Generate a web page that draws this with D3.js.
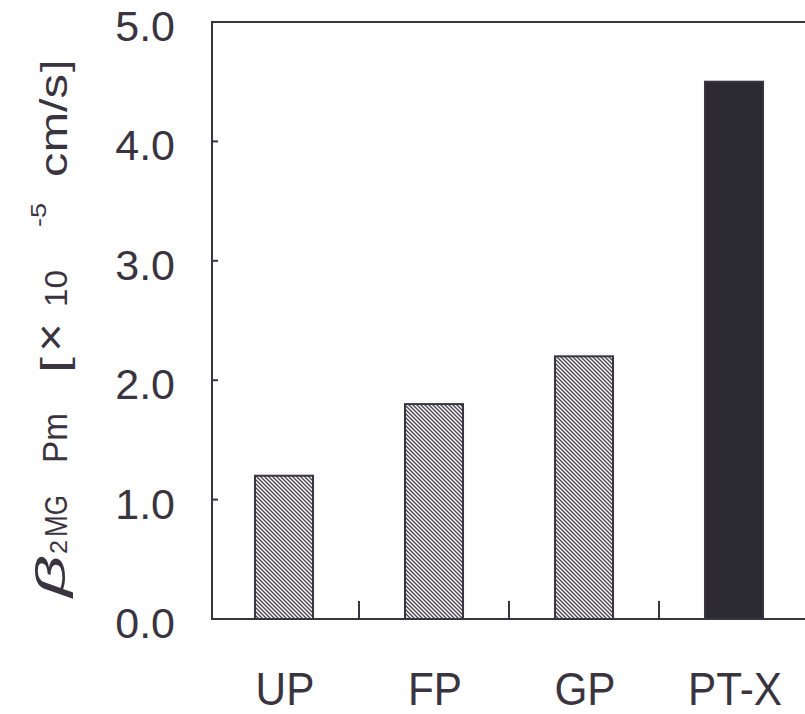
<!DOCTYPE html>
<html>
<head>
<meta charset="utf-8">
<script src="https://cdn.jsdelivr.net/npm/d3@7"></script>
<style>
  body { margin: 0; background: #fff; }
  svg { display: block; }
</style>
</head>
<body>
<div id="chart"></div>
<script>
// data
const categories = ["UP", "FP", "GP", "PT-X"];
const values = [1.2, 1.8, 2.2, 4.5];
const solid = [false, false, false, true];
const yTicks = [0, 1, 2, 3, 4, 5];

const width = 805, height = 714;
const ink = "#3a3440";

const svg = d3.select("#chart").append("svg")
  .attr("width", width)
  .attr("height", height);

// hatch for the first three bars
const defs = svg.append("defs");
const pat = defs.append("pattern")
  .attr("id", "hatch")
  .attr("patternUnits", "userSpaceOnUse")
  .attr("width", 4)
  .attr("height", 4);
pat.append("rect").attr("width", 4).attr("height", 4).attr("fill", "#fff");
pat.append("path")
  .attr("d", "M0,0L4,4M-1,3L1,5M3,-1L5,1")
  .attr("stroke", "#4a4650")
  .attr("stroke-width", 1.4);

const x = d3.scaleBand()
  .domain(categories)
  .range([209, 809])
  .paddingInner(0.613)
  .paddingOuter(0.3065);

// plain bands for the separator ticks
const xSep = d3.scaleBand()
  .domain(categories)
  .range([209, 809]);

const y = d3.scaleLinear()
  .domain([0, 5])
  .range([619, 22]);

const x0 = 212;

// frame: left axis, top line, bottom axis
svg.append("path")
  .attr("d", "M" + (width + 10) + "," + y(5) + "H" + x0 + "V" + y(0) + "H" + (width + 10))
  .attr("fill", "none")
  .attr("stroke", ink)
  .attr("stroke-width", 2);

// y axis ticks (inward) and labels
const yAxis = svg.append("g");
yAxis.selectAll("line")
  .data(yTicks.slice(1, -1))
  .enter().append("line")
  .attr("x1", x0).attr("x2", x0 + 6)
  .attr("y1", d => y(d)).attr("y2", d => y(d))
  .attr("stroke", ink)
  .attr("stroke-width", 2);
yAxis.selectAll("text")
  .data(yTicks)
  .enter().append("text")
  .attr("x", 175)
  .attr("y", d => y(d) + 19)
  .attr("text-anchor", "end")
  .attr("font-family", "Liberation Sans, Arial, sans-serif")
  .attr("font-size", 43)
  .attr("fill", ink)
  .text(d => d.toFixed(1));

// separators between categories, pointing up
svg.append("g").selectAll("line")
  .data(categories.slice(1))
  .enter().append("line")
  .attr("x1", d => xSep(d)).attr("x2", d => xSep(d))
  .attr("y1", y(0)).attr("y2", y(0) - 18)
  .attr("stroke", ink)
  .attr("stroke-width", 2);

// bars
svg.append("g").selectAll("rect")
  .data(categories)
  .enter().append("rect")
  .attr("x", d => x(d))
  .attr("y", (d, i) => y(values[i]))
  .attr("width", x.bandwidth())
  .attr("height", (d, i) => y(0) - y(values[i]))
  .attr("fill", (d, i) => solid[i] ? "#2b2a31" : "url(#hatch)")
  .attr("stroke", ink)
  .attr("stroke-width", 2);

// category labels
svg.append("g").selectAll("text")
  .data(categories)
  .enter().append("text")
  .attr("x", d => x(d) + x.bandwidth() / 2 + 1)
  .attr("y", 705)
  .attr("text-anchor", "middle")
  .attr("font-family", "Liberation Sans, Arial, sans-serif")
  .attr("font-size", 47)
  .attr("fill", ink)
  .attr("transform", d => {
    const cx = x(d) + x.bandwidth() / 2 + 1;
    return "translate(" + cx + ",0) scale(0.9,1) translate(" + (-cx) + ",0)";
  })
  .text(d => d);

// y axis title, rotated, laid out piece by piece
const titleParts = [
  { t: "\u03B2", at: 0, len: 42, size: 40, base: -2, italic: true },
  { t: "2", at: 43, len: 14, size: 24, base: 0 },
  { t: "MG", at: 60, len: 42, size: 31, base: 0 },
  { t: "Pm", at: 134, len: 50, size: 35, base: 0 },
  { t: "[", at: 224, len: 16, size: 36, base: 0 },
  { t: "\u00D7", at: 245, len: 29, size: 42, base: -2 },
  { t: "10", at: 290, len: 37, size: 32, base: 0 },
  { t: "-5", at: 370, len: 24, size: 22, base: -21 },
  { t: "cm/s", at: 420, len: 103, size: 38, base: 0 },
  { t: "]", at: 525, len: 12, size: 36, base: 0 }
];
const title = svg.append("g")
  .attr("transform", "translate(67,597) rotate(-90)");
title.selectAll("text")
  .data(titleParts)
  .enter().append("text")
  .attr("x", d => d.at)
  .attr("y", d => d.base)
  .attr("textLength", d => d.len)
  .attr("lengthAdjust", "spacingAndGlyphs")
  .attr("font-family", "Liberation Sans, Arial, sans-serif")
  .attr("font-style", d => d.italic ? "italic" : "normal")
  .attr("font-size", d => d.size)
  .attr("fill", ink)
  .text(d => d.t);
</script>
</body>
</html>
